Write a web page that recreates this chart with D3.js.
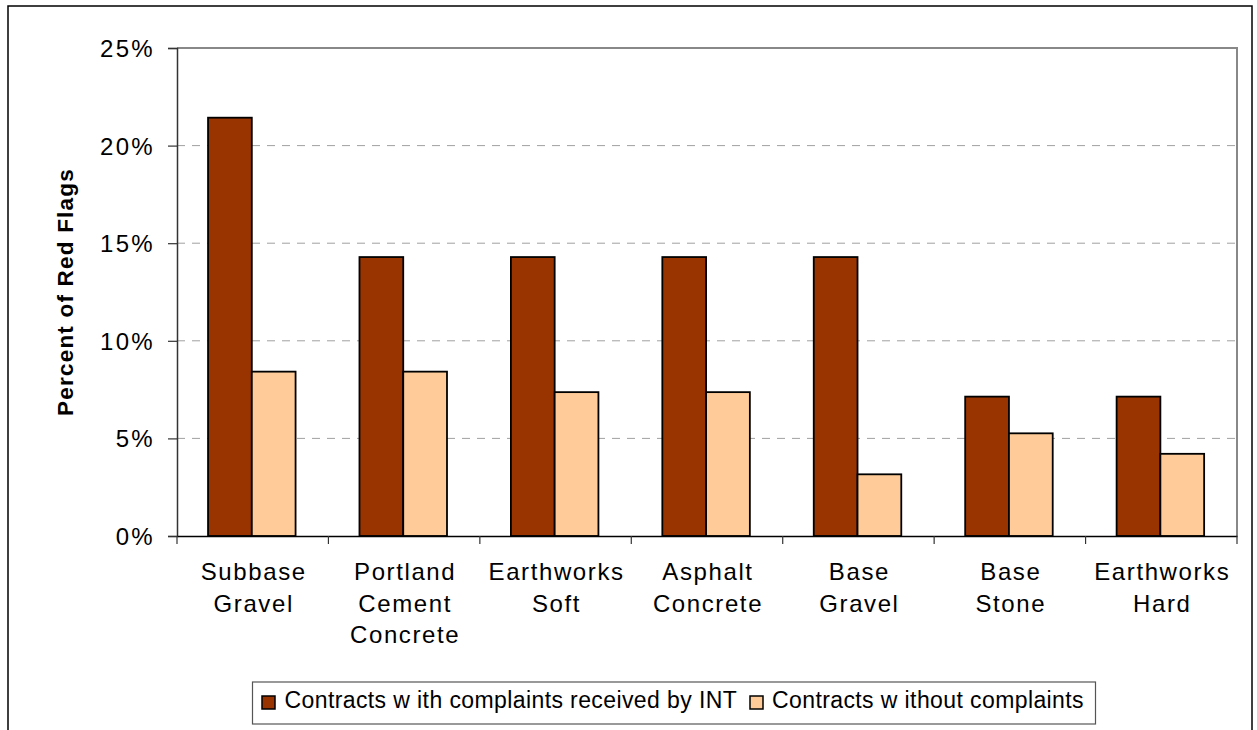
<!DOCTYPE html>
<html>
<head>
<meta charset="utf-8">
<script src="https://cdn.jsdelivr.net/npm/d3@7"></script>
<style>
  html, body { margin: 0; padding: 0; background: #fff; }
  svg { display: block; }
  text { font-family: "Liberation Sans", Arial, sans-serif; fill: #000; }
</style>
</head>
<body>
<svg id="chart" width="1257" height="730"></svg>
<script>
const categories = [
  ["Subbase", "Gravel"],
  ["Portland", "Cement", "Concrete"],
  ["Earthworks", "Soft"],
  ["Asphalt", "Concrete"],
  ["Base", "Gravel"],
  ["Base", "Stone"],
  ["Earthworks", "Hard"]
];
const seriesNames = ["Contracts w ith complaints received by INT", "Contracts w ithout complaints"];
const withComplaints = [21.43, 14.29, 14.29, 14.29, 14.29, 7.14, 7.14];
const withoutComplaints = [8.42, 8.42, 7.37, 7.37, 3.16, 5.26, 4.21];
const yTicks = [0, 5, 10, 15, 20, 25];
const yTitle = "Percent of Red Flags";
const colors = ["#993300", "#FFCC99"];

const svg = d3.select("#chart");
const plot = { left: 177, right: 1237, top: 48, bottom: 536 };

// outer border
svg.append("rect").attr("x", 8).attr("y", 6).attr("width", 1244).attr("height", 740)
  .attr("fill", "none").attr("stroke", "#000").attr("stroke-width", 1.5);

const catKeys = categories.map((c, i) => i);
const x0 = d3.scaleBand().domain(catKeys).range([plot.left, plot.right]).padding(0);
const bw = x0.bandwidth();
const x1 = d3.scaleBand().domain([0, 1]).range([bw * 0.205, bw * 0.783]).padding(0);
const y = d3.scaleLinear().domain([0, 25]).range([plot.bottom, plot.top]);

// gridlines
svg.append("g").selectAll("line").data(yTicks.filter(t => t > 0 && t < 25)).join("line")
  .attr("x1", plot.left).attr("x2", plot.right)
  .attr("y1", d => y(d)).attr("y2", d => y(d))
  .attr("stroke", "#a0a0a0").attr("stroke-width", 1).attr("stroke-dasharray", "8,7");

// frame top & right (gray)
svg.append("path")
  .attr("d", `M${plot.left},${y(25)}H${plot.right}V${plot.bottom}`)
  .attr("fill", "none").attr("stroke", "#888").attr("stroke-width", 2);

// bars
const data = catKeys.map(i => ({ i, vals: [withComplaints[i], withoutComplaints[i]] }));
const groups = svg.append("g").selectAll("g").data(data).join("g")
  .attr("transform", d => `translate(${x0(d.i)},0)`);
groups.selectAll("rect").data(d => d.vals.map((v, s) => ({ v, s }))).join("rect")
  .attr("x", d => x1(d.s)).attr("width", x1.bandwidth())
  .attr("y", d => y(d.v)).attr("height", d => y(0) - y(d.v))
  .attr("fill", d => colors[d.s]).attr("stroke", "#000").attr("stroke-width", 1.8);

// y axis
const yAxis = d3.axisLeft(y).tickValues(yTicks).tickFormat(d => d + "%").tickSize(9).tickPadding(13);
const gy = svg.append("g").attr("transform", `translate(${plot.left},0)`).call(yAxis);
gy.select(".domain").attr("stroke", "#333").attr("stroke-width", 1.5);
gy.selectAll(".tick line").attr("stroke", "#333").attr("stroke-width", 1.2);
gy.selectAll(".tick text").attr("font-size", 24).attr("letter-spacing", "2.3px")
  .attr("font-family", "Liberation Sans, Arial, sans-serif").attr("fill", "#000").attr("dy", "0.35em");

// x axis
const xAxis = d3.axisBottom(x0).tickValues([]).tickSizeOuter(0);
const gx = svg.append("g").attr("transform", `translate(0,${plot.bottom})`).call(xAxis);
gx.select(".domain").attr("stroke", "#000").attr("stroke-width", 1.5);
const bounds = catKeys.concat([categories.length]);
gx.selectAll("line.sep").data(bounds).join("line").attr("class", "sep")
  .attr("x1", d => d < categories.length ? x0(d) : plot.right)
  .attr("x2", d => d < categories.length ? x0(d) : plot.right)
  .attr("y1", 0).attr("y2", 8).attr("stroke", "#333").attr("stroke-width", 1.2);

// category labels
const labels = svg.append("g").selectAll("text").data(data).join("text")
  .attr("x", d => x0(d.i) + bw / 2)
  .attr("y", 580)
  .attr("text-anchor", "middle")
  .attr("font-size", 24).attr("letter-spacing", "1.6px");
labels.each(function (d) {
  d3.select(this).selectAll("tspan").data(categories[d.i]).join("tspan")
    .attr("x", x0(d.i) + bw / 2 + 1)
    .attr("dy", (t, k) => k === 0 ? 0 : 31.6)
    .text(t => t);
});

// y title
svg.append("text")
  .attr("transform", `translate(73,${(plot.top + plot.bottom) / 2}) rotate(-90)`)
  .attr("text-anchor", "middle").attr("font-size", 22.5).attr("font-weight", "bold")
  .attr("letter-spacing", "1.2px")
  .text(yTitle);

// legend
const lg = svg.append("g");
lg.append("rect").attr("x", 252.5).attr("y", 682).attr("width", 843).attr("height", 42)
  .attr("fill", "#fff").attr("stroke", "#555").attr("stroke-width", 1.2);
const legendItems = [
  { name: seriesNames[0], sx: 262, tx: 284.5 },
  { name: seriesNames[1], sx: 750, tx: 772 }
];
legendItems.forEach((it, s) => {
  lg.append("rect").attr("x", it.sx).attr("y", 696).attr("width", 13).attr("height", 13)
    .attr("fill", colors[s]).attr("stroke", "#000").attr("stroke-width", 1.5);
  lg.append("text").attr("x", it.tx).attr("y", 708).attr("font-size", 23)
    .attr("letter-spacing", "0.4px").text(it.name);
});
</script>
</body>
</html>
